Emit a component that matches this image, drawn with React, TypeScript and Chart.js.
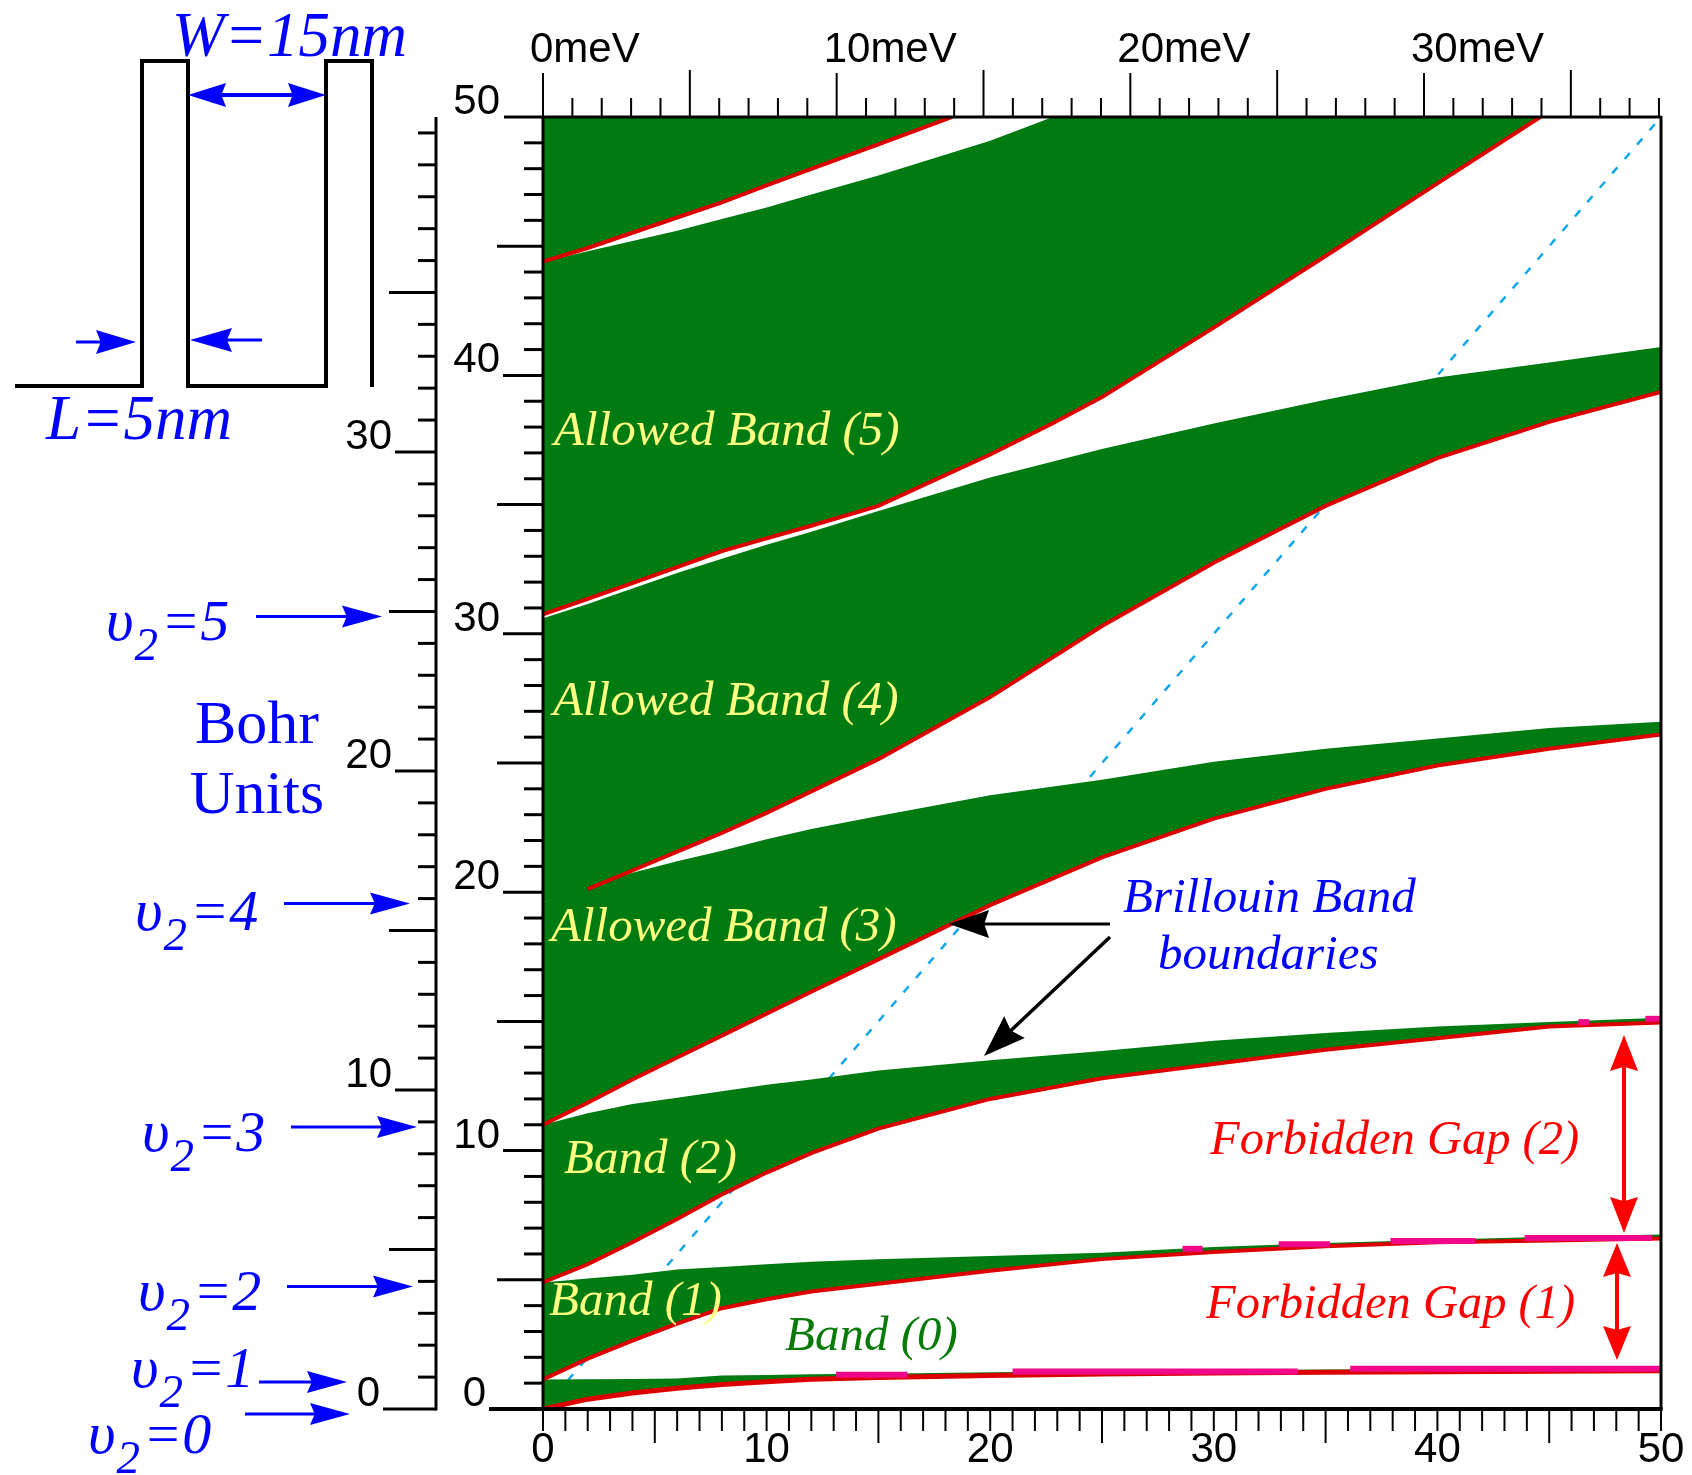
import React, { useEffect, useRef } from 'react';
import { Chart, registerables } from 'chart.js';

Chart.register(...registerables);

const GREEN = '#007b12';
const RED = '#dd0000';
const PINK = '#f0078a';
const CYAN = '#12a6ea';
const BLUE = '#0000ff';
const YELLOW = '#ffff80';
const TXT_RED = '#ff0000';

// ---- axis ranges / tick labels ----
const X_MAX = 50;
const Y_MAX = 50;
const MEV_MAX = 38.07;
const BOHR_MAX = 40.5;
const bottomTickLabels = [0, 10, 20, 30, 40, 50];
const topTickLabels = [0, 10, 20, 30];
const innerTickLabels = [0, 10, 20, 30, 40, 50];
const bohrTickLabels = [0, 10, 20, 30];

// ---- band edges (x: 0..50, y: inner axis 0..50) ----
const gridX = [0, 2, 4, 6, 8, 10, 12, 15, 20, 25, 30, 35, 40, 45, 50];
const band0Lower = [0.0, 0.38, 0.62, 0.8, 0.95, 1.05, 1.15, 1.22, 1.3, 1.35, 1.39, 1.42, 1.44, 1.46, 1.48];
const band0Upper = [1.14, 1.15, 1.16, 1.18, 1.3, 1.32, 1.34, 1.36, 1.42, 1.46, 1.5, 1.53, 1.55, 1.57, 1.6];
const band1Lower = [1.14, 1.95, 2.65, 3.3, 3.9, 4.25, 4.55, 4.85, 5.35, 5.8, 6.08, 6.3, 6.45, 6.52, 6.6];
const band1Upper = [4.9, 5.05, 5.2, 5.4, 5.5, 5.6, 5.7, 5.8, 5.92, 6.05, 6.27, 6.42, 6.55, 6.67, 6.75];
const band2Lower = [4.9, 5.6, 6.45, 7.35, 8.3, 9.15, 9.9, 10.85, 12.0, 12.8, 13.35, 13.9, 14.35, 14.8, 14.96];
const band2Upper = [11.0, 11.45, 11.8, 12.05, 12.3, 12.55, 12.75, 13.1, 13.5, 13.85, 14.25, 14.55, 14.8, 14.98, 15.14];
const band3Lower = [11.0, 11.85, 12.75, 13.6, 14.45, 15.3, 16.15, 17.4, 19.5, 21.35, 22.85, 24.0, 24.9, 25.55, 26.1];
const band3Upper = [19.6, 20.2, 20.75, 21.2, 21.6, 22.05, 22.45, 22.95, 23.75, 24.35, 25.05, 25.55, 25.95, 26.35, 26.6];
const band4Lower = [19.6, 20.12, 20.84, 21.57, 22.29, 23.07, 23.9, 25.15, 27.55, 30.3, 32.75, 34.95, 36.8, 38.2, 39.36];
const band4Upper = [30.6, 31.15, 31.75, 32.35, 32.9, 33.45, 33.95, 34.75, 36.05, 37.15, 38.14, 39.06, 39.92, 40.5, 41.1];
const band5X = [0, 2, 4, 6, 8, 10, 12, 15, 20, 22.8, 25, 30, 35, 40, 44.6];
const band5Lower = [30.75, 31.35, 31.96, 32.58, 33.2, 33.69, 34.18, 34.95, 36.94, 38.15, 39.16, 41.85, 44.62, 47.43, 50];
const band5Upper = [44.4, 44.8, 45.2, 45.6, 46.05, 46.5, 47.0, 47.74, 49.08, 50, 50, 50, 50, 50, 50];
const band6X = [0, 2, 4, 6, 8, 10, 12, 15, 18.3];
const band6Lower = [44.4, 44.93, 45.52, 46.11, 46.7, 47.35, 47.99, 48.94, 50];
const band6Upper = [50, 50, 50, 50, 50, 50, 50, 50, 50];
// x where each band's red lower edge starts
const edgeStart = [0, 0, 0, 0, 2, 0, 0];

// pink highlight pieces on the narrow bands
const pinkFrom = [13.1, 21.0, 36.1, 28.6, 32.9, 37.9, 43.9, 46.3, 49.3];
const pinkTo = [16.3, 33.75, 50, 29.5, 35.2, 41.7, 49.6, 46.8, 50];
const pinkY = [1.33, 1.45, 1.56, 6.2, 6.38, 6.5, 6.62, 14.97, 15.1];

// Brillouin boundary line (y = x)
const diagX = [0, 50];
const diagY = [0, 50];

// well levels v2 = n  ->  n^2 Bohr units
const levelN = [0, 1, 2, 3, 4, 5];
const levelBohr = [0, 1, 4, 9, 16, 25];

function seg(ctx: CanvasRenderingContext2D, x1: number, y1: number, x2: number, y2: number, w: number, c: string) {
  ctx.beginPath();
  ctx.moveTo(x1, y1);
  ctx.lineTo(x2, y2);
  ctx.lineWidth = w;
  ctx.strokeStyle = c;
  ctx.stroke();
}

function head(ctx: CanvasRenderingContext2D, fx: number, fy: number, tx: number, ty: number, len: number, hw: number, c: string) {
  const dx = tx - fx, dy = ty - fy, d = Math.hypot(dx, dy);
  const ux = dx / d, uy = dy / d;
  const bx = tx - ux * len, by = ty - uy * len;
  ctx.beginPath();
  ctx.moveTo(tx, ty);
  ctx.lineTo(bx - uy * hw, by + ux * hw);
  ctx.lineTo(bx + ux * len * 0.12, by + uy * len * 0.12);
  ctx.lineTo(bx + uy * hw, by - ux * hw);
  ctx.closePath();
  ctx.fillStyle = c;
  ctx.fill();
}

function arrow(ctx: CanvasRenderingContext2D, fx: number, fy: number, tx: number, ty: number, w: number, len: number, hw: number, c: string) {
  const d = Math.hypot(tx - fx, ty - fy);
  const ex = tx - (tx - fx) / d * len * 0.7, ey = ty - (ty - fy) / d * len * 0.7;
  seg(ctx, fx, fy, ex, ey, w, c);
  head(ctx, fx, fy, tx, ty, len, hw, c);
}

function dblArrow(ctx: CanvasRenderingContext2D, x1: number, y1: number, x2: number, y2: number, w: number, len: number, hw: number, c: string) {
  const d = Math.hypot(x2 - x1, y2 - y1);
  const ux = (x2 - x1) / d, uy = (y2 - y1) / d;
  seg(ctx, x1 + ux * len * 0.7, y1 + uy * len * 0.7, x2 - ux * len * 0.7, y2 - uy * len * 0.7, w, c);
  head(ctx, x1, y1, x2, y2, len, hw, c);
  head(ctx, x2, y2, x1, y1, len, hw, c);
}

function text(ctx: CanvasRenderingContext2D, s: string, x: number, y: number, font: string, color: string, align: CanvasTextAlign = 'left') {
  ctx.font = font;
  ctx.fillStyle = color;
  ctx.textAlign = align;
  ctx.textBaseline = 'alphabetic';
  ctx.fillText(s, x, y);
}

const AXF = '42px "Liberation Sans"';
const LBF = 'italic 49px "Liberation Serif"';

const decorPlugin = {
  id: 'decor',
  afterDraw(chart: any) {
    const ctx = chart.ctx as CanvasRenderingContext2D;
    const sx = chart.scales.x, sy = chart.scales.y, st = chart.scales.xTop, sb = chart.scales.yBohr;
    const { left, right, top, bottom } = chart.chartArea;
    ctx.save();
    ctx.lineCap = 'butt';

    // ---- labels inside the plot ----
    text(ctx, 'Allowed Band (5)', 554, 445, LBF, YELLOW);
    text(ctx, 'Allowed Band (4)', 553, 715, LBF, YELLOW);
    text(ctx, 'Allowed Band (3)', 551, 941, LBF, YELLOW);
    text(ctx, 'Band (2)', 564, 1173, LBF, YELLOW);
    text(ctx, 'Band (1)', 549, 1315, LBF, YELLOW);
    text(ctx, 'Band (0)', 785, 1350, LBF, '#0a7a0a');
    text(ctx, 'Brillouin Band', 1123, 912, LBF, BLUE);
    text(ctx, 'boundaries', 1158, 969, LBF, BLUE);
    text(ctx, 'Forbidden Gap (2)', 1210, 1154, 'italic 48.5px "Liberation Serif"', TXT_RED);
    text(ctx, 'Forbidden Gap (1)', 1206, 1318, 'italic 48.5px "Liberation Serif"', TXT_RED);

    // Brillouin arrows
    arrow(ctx, 1110, 924, 949, 924, 3, 40, 14, '#000');
    arrow(ctx, 1110, 937, 984, 1056, 3.5, 42, 15, '#000');
    // forbidden gap arrows
    dblArrow(ctx, 1624, 1035, 1624, 1233, 4, 36, 14, TXT_RED);
    dblArrow(ctx, 1617, 1243, 1617, 1360, 4, 34, 14, TXT_RED);

    // ---- frame ----
    seg(ctx, 504, top, right, top, 3, '#000');
    seg(ctx, left, top - 1, left, bottom + 2, 3, '#000');
    seg(ctx, right, top - 1, right, bottom + 2, 3, '#000');
    seg(ctx, 489, bottom, right + 1.5, bottom, 4, '#000');

    // ---- top axis (meV) ----
    for (let m = 0; m <= Math.floor(MEV_MAX); m++) {
      const x = st.getPixelForValue(m);
      if (x > right - 2) continue;
      const len = m % 10 === 0 ? 44 : m % 5 === 0 ? 47 : 19;
      seg(ctx, x, top, x, top - len, 2, '#000');
    }
    for (const m of topTickLabels) {
      text(ctx, `${m}meV`, st.getPixelForValue(m) - 13, 62, AXF, '#000');
    }

    // ---- bottom axis ----
    for (let v = 0; v <= X_MAX; v++) {
      const x = sx.getPixelForValue(v);
      const len = v % 5 === 0 && v % 10 !== 0 ? 34 : 22;
      seg(ctx, x, bottom, x, bottom + len, 2, '#000');
    }
    for (const v of bottomTickLabels) {
      text(ctx, `${v}`, sx.getPixelForValue(v), 1462, AXF, '#000', 'center');
    }

    // ---- inner y axis ----
    for (let v = 1; v < Y_MAX; v++) {
      if (v % 10 === 0) continue;
      const y = sy.getPixelForValue(v);
      const len = v % 5 === 0 ? 46 : 19;
      seg(ctx, left - len, y, left, y, 3, '#000');
    }
    for (const v of innerTickLabels) {
      const y = sy.getPixelForValue(v);
      const r = v === 0 ? 486 : 500;
      text(ctx, `${v}`, r, y - 3, AXF, '#000', 'right');
      if (v !== 0 && v !== Y_MAX) seg(ctx, r + 3, y, left, y, 3, '#000');
    }

    // ---- outer Bohr axis ----
    const ax = 436;
    seg(ctx, ax, top, ax, sb.getPixelForValue(0) + 1.5, 3, '#000');
    for (let v = 1; v <= Math.floor(BOHR_MAX); v++) {
      if (v % 10 === 0 && v < 40) continue;
      const y = sb.getPixelForValue(v);
      const len = v % 5 === 0 && v % 10 !== 0 ? 47 : 18;
      seg(ctx, ax - len, y, ax, y, 3, '#000');
    }
    for (const v of bohrTickLabels) {
      const y = sb.getPixelForValue(v);
      const r = v === 0 ? 380 : 392;
      text(ctx, `${v}`, r, y - 3, AXF, '#000', 'right');
      seg(ctx, r + 3, y, ax, y, 3, '#000');
    }

    // ---- well levels v2 = n ----
    const txtX = [88, 131, 138, 142, 135, 106];
    const arrFrom = [245, 259, 287, 291, 284, 256];
    const arrTo = [350, 347, 413, 417, 410, 382];
    const txtDy = [39, 5, 24, 24, 26, 24];
    levelN.forEach((n, i) => {
      const y = sb.getPixelForValue(levelBohr[i]) + 5;
      arrow(ctx, arrFrom[i], y, arrTo[i], y, 3, 40, 11, BLUE);
      const base = y + txtDy[i];
      ctx.font = 'italic 60px "Liberation Serif"';
      ctx.fillStyle = BLUE;
      ctx.textAlign = 'left';
      ctx.fillText('\u03c5', txtX[i], base);
      const w1 = ctx.measureText('\u03c5').width;
      ctx.font = 'italic 47px "Liberation Serif"';
      ctx.fillText('2', txtX[i] + w1 + 1, base + 20);
      const w2 = ctx.measureText('2').width;
      ctx.font = 'italic 58px "Liberation Serif"';
      ctx.fillText('=' + n, txtX[i] + w1 + w2 + 4, base);
    });

    text(ctx, 'Bohr', 257, 743, '62px "Liberation Serif"', BLUE, 'center');
    text(ctx, 'Units', 257, 813, '62px "Liberation Serif"', BLUE, 'center');

    // ---- well diagram ----
    ctx.beginPath();
    ctx.moveTo(15, 386);
    ctx.lineTo(142, 386);
    ctx.lineTo(142, 61);
    ctx.lineTo(188, 61);
    ctx.lineTo(188, 386);
    ctx.lineTo(326, 386);
    ctx.lineTo(326, 61);
    ctx.lineTo(372, 61);
    ctx.lineTo(372, 387);
    ctx.lineWidth = 4;
    ctx.strokeStyle = '#000';
    ctx.lineJoin = 'miter';
    ctx.stroke();
    dblArrow(ctx, 188, 95, 326, 95, 4, 38, 12, BLUE);
    arrow(ctx, 76, 342, 136, 342, 3, 40, 12, BLUE);
    arrow(ctx, 262, 340, 190, 340, 3, 42, 12, BLUE);
    text(ctx, 'W=15nm', 172, 56, 'italic 63px "Liberation Serif"', BLUE);
    text(ctx, 'L=5nm', 46, 439, 'italic 63px "Liberation Serif"', BLUE);

    ctx.restore();
  },
};

function pts(xs: number[], ys: number[]) {
  return xs.map((x, i) => ({ x, y: ys[i] }));
}

export default function App() {
  const ref = useRef<HTMLCanvasElement>(null);
  useEffect(() => {
    document.body.style.margin = '0';
    const bands = [
      { xs: gridX, lo: band0Lower, hi: band0Upper, w: 5 },
      { xs: gridX, lo: band1Lower, hi: band1Upper, w: 4 },
      { xs: gridX, lo: band2Lower, hi: band2Upper, w: 4 },
      { xs: gridX, lo: band3Lower, hi: band3Upper, w: 4 },
      { xs: gridX, lo: band4Lower, hi: band4Upper, w: 4 },
      { xs: band5X, lo: band5Lower, hi: band5Upper, w: 4 },
      { xs: band6X, lo: band6Lower, hi: band6Upper, w: 4 },
    ];
    const datasets: any[] = [];
    datasets.push({
      data: pts(diagX, diagY),
      borderColor: CYAN,
      borderWidth: 2.5,
      borderDash: [8, 11],
      pointRadius: 0,
      fill: false,
      order: 100,
    });
    bands.forEach((b, bi) => {
      // fill target (lower edge, invisible)
      const loIdx = datasets.length;
      datasets.push({
        data: pts(b.xs, b.lo),
        borderColor: 'rgba(0,0,0,0)',
        borderWidth: 0,
        pointRadius: 0,
        fill: false,
        order: 6,
      });
      // green allowed band between lower and upper edges
      datasets.push({
        data: pts(b.xs, b.hi),
        borderColor: 'rgba(0,0,0,0)',
        borderWidth: 0,
        pointRadius: 0,
        fill: loIdx,
        backgroundColor: GREEN,
        order: 5,
      });
      // red lower band edge
      datasets.push({
        data: pts(b.xs, b.lo).filter((p) => p.x >= edgeStart[bi]),
        borderColor: RED,
        borderWidth: b.w,
        pointRadius: 0,
        fill: false,
        order: 1,
      });
    });
    pinkFrom.forEach((f, i) => {
      datasets.push({
        data: [{ x: f, y: pinkY[i] }, { x: pinkTo[i], y: pinkY[i] }],
        borderColor: PINK,
        borderWidth: 6,
        pointRadius: 0,
        fill: false,
        order: 0,
      });
    });

    const chart = new Chart(ref.current as HTMLCanvasElement, {
      type: 'line',
      data: { datasets },
      options: {
        animation: false,
        responsive: false,
        devicePixelRatio: 1,
        events: [],
        layout: { padding: { left: 543, right: 31, top: 117, bottom: 66 } },
        plugins: { legend: { display: false }, tooltip: { enabled: false } },
        scales: {
          x: { type: 'linear', min: 0, max: X_MAX, display: false },
          y: { type: 'linear', min: 0, max: Y_MAX, display: false },
          xTop: { type: 'linear', position: 'top', min: 0, max: MEV_MAX, display: false },
          yBohr: { type: 'linear', position: 'left', min: 0, max: BOHR_MAX, display: false },
        },
      } as any,
      plugins: [decorPlugin],
    });
    return () => chart.destroy();
  }, []);
  return <canvas ref={ref} width={1692} height={1475} style={{ display: 'block' }} />;
}
